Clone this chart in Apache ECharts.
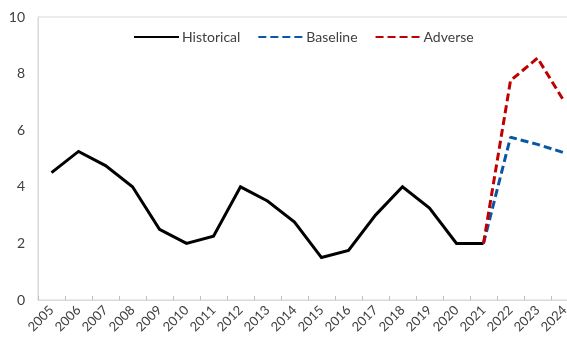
<!DOCTYPE html>
<html>
<head>
<meta charset="utf-8">
<script src="https://cdn.jsdelivr.net/npm/echarts@6/dist/echarts.min.js"></script>
<style>
  html, body { margin: 0; padding: 0; background: #fff; overflow: hidden; }
  #chart { width: 579px; height: 339px; }
</style>
</head>
<body>
<div id="chart"></div>
<script>
// Years on the category axis
const years = ['2005','2006','2007','2008','2009','2010','2011','2012','2013','2014',
               '2015','2016','2017','2018','2019','2020','2021','2022','2023','2024'];

// Observed path through 2021
const historical = [4.5, 5.25, 4.75, 4.0, 2.5, 2.0, 2.25, 4.0, 3.5, 2.75,
                    1.5, 1.75, 3.0, 4.0, 3.25, 2.0, 2.0, null, null, null];

// Projections branching from the 2021 value
const baseline = [null, null, null, null, null, null, null, null, null, null,
                  null, null, null, null, null, null, 2.0, 5.75, 5.5, 5.2];
const adverse  = [null, null, null, null, null, null, null, null, null, null,
                  null, null, null, null, null, null, 2.0, 7.75, 8.55, 7.0];

// Value axis ticks
const yTicks = { min: 0, max: 10, interval: 2 };

const font = 'Lato, "Open Sans", sans-serif';
const textColor = '#404040';

const chart = echarts.init(document.getElementById('chart'), null, { renderer: 'canvas' });

chart.setOption({
  animation: false,
  textStyle: { fontFamily: font },
  grid: {
    left: 38, top: 17, right: 1, bottom: 39,
    show: true, borderColor: '#d9d9d9', borderWidth: 1,
    containLabel: false
  },
  legend: {
    top: 25,
    left: 128,
    itemWidth: 45,
    itemHeight: 14,
    itemGap: 17,
    itemStyle: { opacity: 0 },
    textStyle: { fontFamily: font, fontSize: 14, color: textColor, padding: [0, 0, 0, -2] },
    data: ['Historical', 'Baseline', 'Adverse']
  },
  xAxis: {
    type: 'category',
    data: years,
    boundaryGap: true,
    axisLine: { lineStyle: { color: '#d9d9d9', width: 1 } },
    axisTick: { show: true, inside: true, length: 4, lineStyle: { color: '#bfbfbf' } },
    axisLabel: {
      rotate: 45, interval: 0, margin: 8,
      fontFamily: font, fontSize: 13, color: textColor
    }
  },
  yAxis: {
    type: 'value',
    min: yTicks.min, max: yTicks.max, interval: yTicks.interval,
    axisLine: { show: true, lineStyle: { color: '#d9d9d9' } },
    axisTick: { show: false },
    splitLine: { show: false },
    axisLabel: { margin: 13, fontFamily: font, fontSize: 14, color: textColor }
  },
  series: [
    {
      name: 'Historical', type: 'line', data: historical,
      symbol: 'none',
      lineStyle: { color: '#000000', width: 3, join: 'miter' },
      itemStyle: { color: '#000000' }
    },
    {
      name: 'Baseline', type: 'line', data: baseline,
      symbol: 'none',
      lineStyle: { color: '#0a56a6', width: 3, type: [8, 4] },
      itemStyle: { color: '#0a56a6' }
    },
    {
      name: 'Adverse', type: 'line', data: adverse,
      symbol: 'none',
      lineStyle: { color: '#c00000', width: 3, type: [8, 4] },
      itemStyle: { color: '#c00000' }
    }
  ]
});
</script>
</body>
</html>
